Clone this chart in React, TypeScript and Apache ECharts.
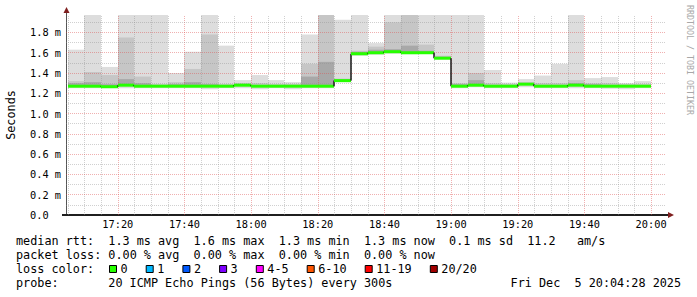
import React, { useEffect, useRef } from "react";
import * as echarts from "echarts";

// ---- time range (minutes since midnight) ----
const rangeStart = "17:04:28";
const rangeMinutes = 180;

// ---- bar (5-minute step) start times ----
const barStarts = [
  "17:05", "17:10", "17:15", "17:20", "17:25", "17:30", "17:35", "17:40", "17:45", "17:50", "17:55",
  "18:00", "18:05", "18:10", "18:15", "18:20", "18:25", "18:30", "18:35", "18:40", "18:45", "18:50", "18:55",
  "19:00", "19:05", "19:10", "19:15", "19:20", "19:25", "19:30", "19:35", "19:40", "19:45", "19:50", "19:55",
];
const stepMinutes = 5;

// ---- values in ms ----
const median = [
  1.27, 1.27, 1.265, 1.28, 1.27, 1.27, 1.27, 1.27, 1.27, 1.27, 1.28,
  1.27, 1.27, 1.27, 1.27, 1.27, 1.325, 1.59, 1.6, 1.61, 1.6, 1.6, 1.546,
  1.27, 1.28, 1.27, 1.27, 1.29, 1.27, 1.27, 1.28, 1.27, 1.27, 1.27, 1.27,
];
const smokeMax = [
  1.63, 2.0, 1.46, 2.0, 2.0, 2.0, 1.4, 1.61, 2.0, 1.67, 1.33,
  1.38, 1.33, 1.31, 1.78, 2.0, 1.925, 2.0, 1.695, 2.0, 2.0, 2.0, 2.0,
  2.0, 2.0, 1.43, 1.305, 1.34, 1.375, 1.49, 2.0, 1.35, 1.36, 1.3, 1.32,
];
const smokeMid = [
  1.32, 1.41, 1.38, 1.75, 1.365, 1.29, 1.31, 1.44, 1.78, 1.29, 1.3,
  1.3, 1.29, 1.29, 1.49, 2.0, 1.345, 1.62, 1.66, 1.9, 2.0, 1.68, 1.57,
  1.3, 1.4, 1.3, 1.29, 1.31, 1.3, 1.3, 1.33, 1.3, 1.3, 1.29, 1.29,
];
const smokeDark = [
  1.3, 1.31, 1.29, 1.34, 1.3, 1.28, 1.29, 1.31, 1.29, 1.28, 1.29,
  1.28, 1.28, 1.28, 1.365, 1.51, 1.335, 1.61, 1.63, 1.635, 1.67, 1.62, 1.56,
  1.29, 1.33, 1.28, 1.28, 1.3, 1.28, 1.28, 1.3, 1.29, 1.28, 1.28, 1.28,
];
const smokeMin = [
  1.25, 1.25, 1.25, 1.25, 1.25, 1.25, 1.25, 1.25, 1.24, 1.25, 1.25,
  1.24, 1.25, 1.24, 1.25, 1.25, 1.31, 1.57, 1.58, 1.59, 1.585, 1.59, 1.535,
  1.25, 1.26, 1.25, 1.25, 1.26, 1.25, 1.25, 1.25, 1.25, 1.245, 1.24, 1.25,
];

// ---- axes ----
const xTickLabels = ["17:20", "17:40", "18:00", "18:20", "18:40", "19:00", "19:20", "19:40", "20:00"];
const yMax = 1.972;
const yInterval = 0.2;
const yUnit = " m";
const yAxisName = "Seconds";
const watermark = "RRDTOOL / TOBI OETIKER";

// ---- legend texts ----
const legendRtt = "median rtt:  1.3 ms avg  1.6 ms max  1.3 ms min  1.3 ms now  0.1 ms sd  11.2   am/s";
const legendLoss = "packet loss: 0.00 % avg  0.00 % max  0.00 % min  0.00 % now";
const legendColorTitle = "loss color:";
const lossLabels = ["0", "1", "2", "3", "4-5", "6-10", "11-19", "20/20"];
const lossColors = ["#26ff00", "#00b8ff", "#0059ff", "#7e00ff", "#ff00ff", "#ff5500", "#ff0000", "#a10000"];
const legendProbe = "probe:       20 ICMP Echo Pings (56 Bytes) every 300s";
const legendDate = "Fri Dec  5 20:04:28 2025";

const MONO = '"DejaVu Sans Mono", monospace';

function toMin(s: string): number {
  const p = s.split(":").map(Number);
  return p[0] * 60 + p[1] + (p[2] || 0) / 60;
}
function fmtTime(v: number): string {
  const h = Math.floor(v / 60);
  const m = Math.round(v - h * 60);
  return `${h}:${m < 10 ? "0" : ""}${m}`;
}

function textSegments(line: string, x0: number, y: number, cw: number, fs: number, fill = "#000") {
  const out: any[] = [];
  const re = /\S+(?: \S+)*/g;
  let m: RegExpExecArray | null;
  while ((m = re.exec(line))) {
    out.push({
      type: "text",
      x: x0 + m.index * cw,
      y,
      silent: true,
      style: { text: m[0], fontFamily: MONO, fontSize: fs, fill, align: "left", verticalAlign: "middle" },
    });
  }
  return out;
}

export default function App() {
  const ref = useRef<HTMLDivElement>(null);

  useEffect(() => {
    if (!ref.current) return;
    const chart = echarts.init(ref.current, null, { renderer: "svg", width: 697, height: 297 });

    const xMin = toMin(rangeStart);
    const xMax = xMin + rangeMinutes;

    const smokeData = barStarts.map((s, i) => [
      toMin(s), toMin(s) + stepMinutes, smokeMin[i], smokeDark[i], smokeMid[i], smokeMax[i], median[i],
    ]);
    const medianData = barStarts.map((s, i) => [
      toMin(s), toMin(s) + stepMinutes, median[i], i > 0 ? median[i - 1] : median[i],
    ]);

    // grid lines
    const minorStyle = { color: "rgba(143,143,143,0.42)", width: 1, type: [1, 1] };
    const majorStyle = { color: "rgba(222,79,79,0.45)", width: 1, type: [1, 1] };
    const gridLines: any[] = [];
    for (let t = Math.ceil(xMin / 5) * 5; t < xMax; t += 5) {
      gridLines.push({ xAxis: t, lineStyle: t % 20 === 0 ? majorStyle : minorStyle });
    }
    for (let k = 1; k * 0.1 < yMax; k++) {
      gridLines.push({ yAxis: +(k * 0.1).toFixed(1), lineStyle: k % 2 === 0 ? majorStyle : minorStyle });
    }

    const fs = 11.8;
    const cw = 7.1;
    const lx = 16;
    const graphic: any[] = [
      // axis extensions & arrows
      { type: "line", silent: true, shape: { x1: 66.5, y1: 15, x2: 66.5, y2: 11 }, style: { stroke: "#555", lineWidth: 1 } },
      { type: "polygon", silent: true, shape: { points: [[63.5, 13], [66.5, 7], [69.5, 13]] }, style: { fill: "#7f1f1f" } },
      { type: "line", silent: true, shape: { x1: 62, y1: 215, x2: 66, y2: 215 }, style: { stroke: "#1f1f1f", lineWidth: 2 } },
      { type: "line", silent: true, shape: { x1: 666, y1: 215, x2: 669, y2: 215 }, style: { stroke: "#1f1f1f", lineWidth: 2 } },
      { type: "polygon", silent: true, shape: { points: [[668, 212], [674, 215], [668, 218]] }, style: { fill: "#7f1f1f" } },
      // y axis name
      {
        type: "text", silent: true, x: 11, y: 115, rotation: Math.PI / 2,
        style: { text: yAxisName, fontFamily: MONO, fontSize: fs, fill: "#000", align: "center", verticalAlign: "middle" },
      },
      // watermark
      {
        type: "text", silent: true, x: 690, y: 60, rotation: -Math.PI / 2,
        style: { text: watermark, fontFamily: MONO, fontSize: 8.3, fill: "#a8a8a8", align: "center", verticalAlign: "middle" },
      },
      ...textSegments(legendRtt, lx, 241, cw, fs),
      ...textSegments(legendLoss, lx, 255, cw, fs),
      ...textSegments(legendColorTitle, lx, 269, cw, fs),
      ...textSegments(legendProbe, lx, 283, cw, fs),
      ...textSegments(legendDate, 681 - legendDate.length * cw, 283, cw, fs),
    ];
    let bx = 109;
    lossLabels.forEach((lab, i) => {
      graphic.push({
        type: "rect", silent: true, shape: { x: bx + 0.5, y: 265.5, width: 7, height: 7 },
        style: { fill: lossColors[i], stroke: "#000", lineWidth: 1 },
      });
      graphic.push({
        type: "text", silent: true, x: bx + 11.5, y: 269,
        style: { text: lab, fontFamily: MONO, fontSize: fs, fill: "#000", align: "left", verticalAlign: "middle" },
      });
      bx += lab.length * cw + 29.6;
    });

    const option: any = {
      animation: false,
      backgroundColor: "#ffffff",
      grid: { left: 66, top: 15, width: 600, height: 200, containLabel: false, outerBoundsMode: "none" },
      xAxis: {
        type: "value", min: xMin, max: xMax,
        axisLine: { show: true, onZero: false, lineStyle: { color: "#1f1f1f", width: 2 } },
        axisTick: { show: false },
        splitLine: { show: false },
        axisLabel: {
          customValues: xTickLabels.map(toMin),
          formatter: (v: number) => fmtTime(v),
          fontFamily: MONO, fontSize: 10.3, color: "#000", margin: 4,
        },
      },
      yAxis: {
        type: "value", min: 0, max: yMax, interval: yInterval,
        axisLine: { show: true, onZero: false, lineStyle: { color: "#555", width: 1 } },
        axisTick: { show: false },
        splitLine: { show: false },
        axisLabel: {
          showMaxLabel: false,
          formatter: (v: number) => (v === 0 ? "0.0" : v.toFixed(1) + yUnit),
          fontFamily: MONO, fontSize: 10.3, color: "#000", align: "left", margin: 36,
        },
      },
      series: [
        {
          type: "custom", name: "smoke", z: 1, clip: true, silent: true,
          data: smokeData,
          encode: { x: [0, 1], y: [2, 5] },
          renderItem: (params: any, api: any) => {
            const cs = params.coordSys;
            const t0 = api.value(0), t1 = api.value(1);
            const lo = api.value(2), dk = api.value(3), md = api.value(4), hi = api.value(5), med = api.value(6);
            const box = (a: number, b: number, fill: string) => {
              const p0 = api.coord([t0, Math.min(b, yMax)]);
              const p1 = api.coord([t1, a]);
              const left = Math.round(Math.max(p0[0], cs.x));
              const right = Math.round(p1[0]);
              return {
                type: "rect", silent: true,
                shape: { x: left, y: p0[1], width: right - left, height: p1[1] - p0[1] },
                style: { fill },
              };
            };
            return {
              type: "group",
              children: [box(lo, hi, "#dddddd"), box(med, md, "#c6c6c6"), box(med, dk, "#a8a8a8")],
            };
          },
        },
        {
          type: "line", name: "grid", z: 2, silent: true, data: [[xMin, 0]],
          symbol: "none", showSymbol: false, lineStyle: { width: 0, opacity: 0 },
          markLine: { silent: true, z: 2, symbol: ["none", "none"], label: { show: false }, animation: false, data: gridLines },
        },
        {
          type: "custom", name: "median", z: 3, clip: true, silent: true,
          data: medianData,
          encode: { x: [0, 1], y: [2] },
          renderItem: (params: any, api: any) => {
            const cs = params.coordSys;
            const t0 = api.value(0), t1 = api.value(1), med = api.value(2), prev = api.value(3);
            const p0 = api.coord([t0, med]);
            const p1 = api.coord([t1, med]);
            const pp = api.coord([t0, prev]);
            const left = Math.round(Math.max(p0[0], cs.x));
            const right = Math.round(p1[0]);
            return {
              type: "group",
              children: [
                {
                  type: "line", silent: true,
                  shape: { x1: left, y1: pp[1], x2: left, y2: p0[1] },
                  style: { stroke: "#1a1a1a", lineWidth: 1.5 },
                },
                {
                  type: "rect", silent: true,
                  shape: { x: left, y: p0[1] - 1.5, width: right - left, height: 3 },
                  style: { fill: "#26ff00" },
                },
              ],
            };
          },
        },
      ],
      graphic,
    };

    chart.setOption(option);
    return () => chart.dispose();
  }, []);

  return (
    <div
      ref={ref}
      style={{ position: "fixed", left: 0, top: 0, width: 697, height: 297, background: "#fff" }}
    />
  );
}
